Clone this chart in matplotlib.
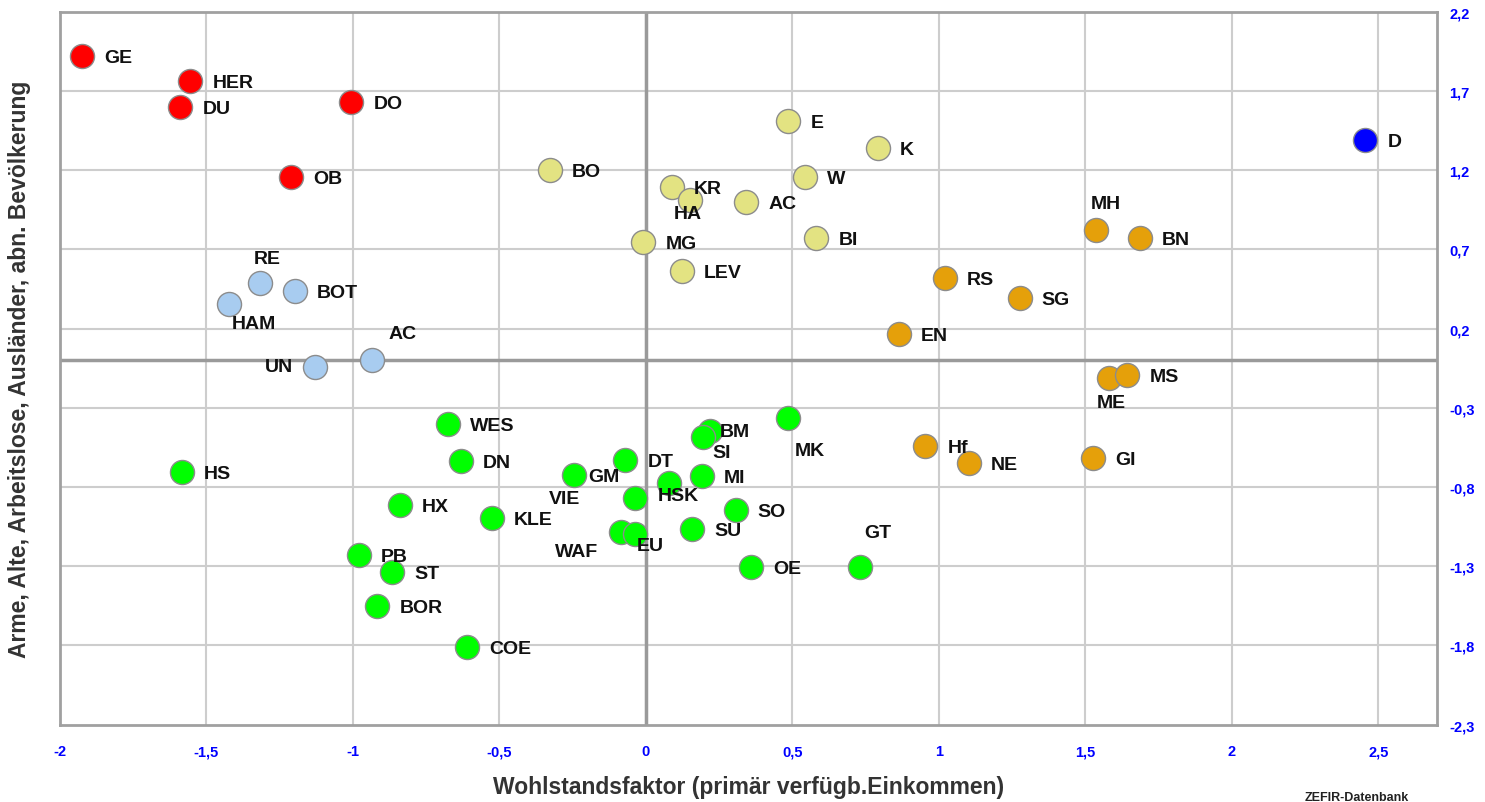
import matplotlib.pyplot as plt

# ===================== Daten =====================
# Kreise / Städte, Faktorwerte (x = Wohlstand, y = soziale Belastung)

rot_namen = ["GE", "HER", "DU", "DO", "OB"]
rot_x = [-1.924, -1.556, -1.590, -1.006, -1.211]
rot_y = [1.922, 1.764, 1.600, 1.628, 1.158]

hellblau_namen = ["RE", "BOT", "HAM", "UN", "AC"]
hellblau_x = [-1.318, -1.198, -1.422, -1.129, -0.934]
hellblau_y = [0.485, 0.435, 0.355, -0.041, 0.003]

gelb_namen = ["BO", "E", "K", "W", "KR", "HA", "AC", "MG", "BI", "LEV"]
gelb_x = [-0.328, 0.485, 0.792, 0.542, 0.088, 0.149, 0.343, -0.010, 0.582, 0.123]
gelb_y = [1.200, 1.508, 1.339, 1.154, 1.091, 1.011, 0.997, 0.744, 0.769, 0.561]

orange_namen = ["MH", "BN", "RS", "SG", "EN", "ME", "MS", "Hf", "NE", "GI"]
orange_x = [1.535, 1.685, 1.019, 1.275, 0.862, 1.579, 1.643, 0.954, 1.101, 1.525]
orange_y = [0.822, 0.771, 0.517, 0.392, 0.165, -0.115, -0.092, -0.544, -0.649, -0.618]

gruen_namen = ["WES", "DN", "HS", "HX", "KLE", "PB", "ST", "BOR", "COE", "GM",
               "DT", "VIE", "HSK", "BM", "SI", "MI", "MK", "SO", "SU", "WAF",
               "EU", "OE", "GT"]
gruen_x = [-0.675, -0.633, -1.585, -0.841, -0.526, -0.980, -0.867, -0.917, -0.612, -0.246,
           -0.070, -0.038, 0.078, 0.220, 0.195, 0.191, 0.485, 0.306, 0.157, -0.084,
           -0.036, 0.357, 0.732]
gruen_y = [-0.403, -0.635, -0.708, -0.912, -0.996, -1.230, -1.335, -1.554, -1.809, -0.723,
           -0.628, -0.870, -0.777, -0.449, -0.487, -0.729, -0.365, -0.946, -1.066, -1.087,
           -1.097, -1.308, -1.308]

blau_namen = ["D"]
blau_x = [2.455]
blau_y = [1.390]

x_ticks = [-2, -1.5, -1, -0.5, 0, 0.5, 1, 1.5, 2, 2.5]
x_tick_labels = ["-2", "-1,5", "-1", "-0,5", "0", "0,5", "1", "1,5", "2", "2,5"]
y_ticks = [2.2, 1.7, 1.2, 0.7, 0.2, -0.3, -0.8, -1.3, -1.8, -2.3]
y_tick_labels = ["2,2", "1,7", "1,2", "0,7", "0,2", "-0,3", "-0,8", "-1,3", "-1,8", "-2,3"]

# ===================== Beschriftungs-Positionen (Punkte) =====================
# (dx, dy, ha)  Standard: rechts neben dem Punkt
std = (16, -1, "left")
spezial = {
    ("hellblau", "RE"): (5, 18, "center"),
    ("hellblau", "HAM"): (18, -14, "center"),
    ("hellblau", "AC"): (22, 19, "center"),
    ("hellblau", "UN"): (-16, 0, "right"),
    ("gelb", "HA"): (-1, -10, "center"),
    ("orange", "MH"): (7, 19, "center"),
    ("orange", "ME"): (2, -17, "center"),
    ("gruen", "SI"): (7, -11, "left"),
    ("gruen", "MK"): (5, -23, "left"),
    ("gruen", "VIE"): (-39, 0, "right"),
    ("gruen", "HSK"): (-8, -9, "left"),
    ("gruen", "WAF"): (-17, -14, "right"),
    ("gruen", "EU"): (1, -8, "left"),
    ("gruen", "GT"): (3, 25, "left"),
    ("gruen", "GM"): (10, -1, "left"),
    ("gruen", "BM"): (7, 0, "left"),
}

gruppen = [
    ("rot", rot_namen, rot_x, rot_y, "#FF0000"),
    ("hellblau", hellblau_namen, hellblau_x, hellblau_y, "#A8CCF0"),
    ("gelb", gelb_namen, gelb_x, gelb_y, "#E3E382"),
    ("orange", orange_namen, orange_x, orange_y, "#E5A00A"),
    ("gruen", gruen_namen, gruen_x, gruen_y, "#00FF00"),
    ("blau", blau_namen, blau_x, blau_y, "#0000FF"),
]

# ===================== Zeichnen =====================
fig = plt.figure(figsize=(14.85, 8.03), dpi=100)
ax = fig.add_axes([0.0404, 0.0963, 0.9273, 0.8879])

ax.set_xlim(-2, 2.7)
ax.set_ylim(-2.3, 2.2)

# Gitter
for xt in x_ticks[1:]:
    ax.axvline(xt, color="#CDCDCD", lw=1.5, zorder=1)
for yt in y_ticks[1:-1]:
    ax.axhline(yt, color="#CDCDCD", lw=1.5, zorder=1)
ax.axhline(0, color="#9A9A9A", lw=2.5, zorder=2)
ax.axvline(0, color="#9A9A9A", lw=2.5, zorder=2)

for name, namen, xs, ys, farbe in gruppen:
    ax.scatter(xs, ys, s=300, c=farbe, edgecolors="#8C8C8C", linewidths=1.0, zorder=3)
    for n, xv, yv in zip(namen, xs, ys):
        dx, dy, ha = spezial.get((name, n), std)
        ax.annotate(n, (xv, yv), xytext=(dx, dy), textcoords="offset points",
                    ha=ha, va="center", fontsize=14, fontweight="bold",
                    family="Liberation Sans", color="#111111", zorder=4)

for s in ax.spines.values():
    s.set_color("#A0A0A0")
    s.set_linewidth(2)

ax.set_xticks(x_ticks)
ax.set_xticklabels(x_tick_labels)
ax.yaxis.tick_right()
ax.set_yticks(y_ticks)
ax.set_yticklabels(y_tick_labels)
ax.tick_params(axis="both", length=0, labelcolor="#0000FF", labelsize=10.5)
ax.tick_params(axis="x", pad=14)
ax.tick_params(axis="y", pad=9)
for lab in ax.get_xticklabels() + ax.get_yticklabels():
    lab.set_fontweight("bold")
    lab.set_family("Liberation Sans")

ax.set_xlabel("Wohlstandsfaktor (primär verfügb.Einkommen)", fontsize=16.5,
              fontweight="bold", family="Liberation Sans", color="#333333")
ax.xaxis.set_label_coords(0.5, -0.071)
ax.yaxis.set_label_position("left")
ax.set_ylabel("Arme, Alte, Arbeitslose, Ausländer, abn. Bevölkerung", fontsize=16.5,
              fontweight="bold", family="Liberation Sans", color="#333333")
ax.yaxis.set_label_coords(-0.021, 0.5)

fig.text(1357 / 1485, 1 - 792 / 803, "ZEFIR-Datenbank", ha="center", va="top",
         fontsize=9, fontweight="bold", family="Liberation Sans", color="#222222")

fig.savefig("out.png", dpi=100)
